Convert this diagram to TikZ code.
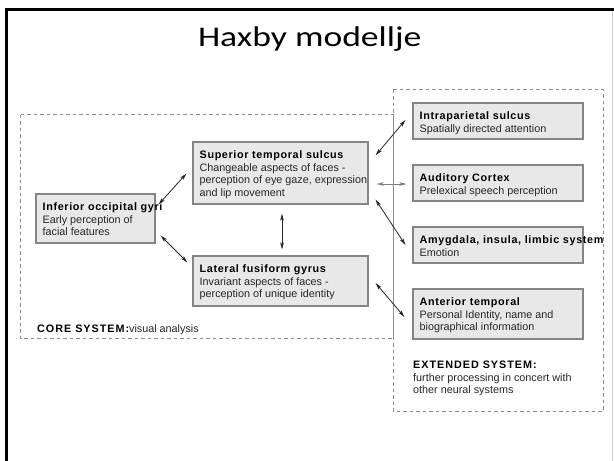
\documentclass[tikz,border=0pt]{standalone}
\usepackage{fontspec}
\setmainfont{Liberation Sans}
\newfontfamily\titlefont{Carlito}
\newfontfamily\hbold{Liberation Sans}[LetterSpace=6]
\newfontfamily\hcaps{Liberation Sans}[LetterSpace=9]
\usetikzlibrary{arrows.meta,calc}
\definecolor{boxfill}{HTML}{E8E8E8}
\definecolor{boxline}{HTML}{858585}
\definecolor{dashc}{HTML}{8C8C8C}
\definecolor{txtc}{HTML}{262626}
\newcommand{\hd}[1]{{\hbold\bfseries\color{black}#1}}
\begin{document}
\begin{tikzpicture}[x=1pt,y=-1pt,
  box/.style={draw=boxline, fill=boxfill, line width=1.1pt, inner sep=0pt},
  sysbox/.style={draw=dashc, line width=0.8pt, dash pattern=on 3.5pt off 3pt},
  txt/.style={anchor=north west, inner sep=0pt, align=left, text=txtc, font={\fontsize{10.8}{12.6}\selectfont}},
  tip/.tip={Stealth[length=7pt,width=3.6pt,inset=1.5pt]},
  arr/.style={draw=black!85, line width=0.8pt, tip-tip},
]
\useasboundingbox (0,0) rectangle (614,461);
\fill[white] (0,0) rectangle (614,461);
% slide frame
\draw[black, line width=2.6pt] (6.3,461) -- (6.3,9.6) -- (614,9.6);
\draw[gray!40, line width=0.8pt] (612.6,10.5) -- (612.6,461);
% title
\node[anchor=base, inner sep=0pt, font={\titlefont\fontsize{28.5}{34}\selectfont}] (title) at (309.7,46.7) {\scalebox{1.25}[1]{Haxby modellje}};
% system boxes
\draw[sysbox] (20.5,114.5) rectangle (393,338.5);
\draw[sysbox] (393,89.5) rectangle (603,411);
% boxes
\node[box, minimum width=119pt, minimum height=49pt] (iog) at (95.5,218.5) {};
\node[box, minimum width=175pt, minimum height=62pt] (sts) at (280.5,173) {};
\node[box, minimum width=175pt, minimum height=50pt] (lfg) at (280.5,281) {};
\node[box, minimum width=170pt, minimum height=36pt] (ips) at (498,121) {};
\node[box, minimum width=170pt, minimum height=36pt] (aud) at (498,183) {};
\node[box, minimum width=170pt, minimum height=36pt] (amy) at (498,245) {};
\node[box, minimum width=170pt, minimum height=50pt] (ant) at (498,314) {};
% texts
\node[txt] (iogt) at ($(iog.north west)+(7,9.1)$) {\hd{Inferior occipital gyri}\\Early perception of\\facial features};
\node[txt] (stst) at ($(sts.north west)+(7,9.1)$) {\hd{Superior temporal sulcus}\\Changeable aspects of faces -\\perception of eye gaze, expression\\and lip movement};
\node[txt] (lfgt) at ($(lfg.north west)+(7,9.1)$) {\hd{Lateral fusiform gyrus}\\Invariant aspects of faces -\\perception of unique identity};
\node[txt] (ipst) at ($(ips.north west)+(7,9.1)$) {\hd{Intraparietal sulcus}\\Spatially directed attention};
\node[txt] (audt) at ($(aud.north west)+(7,9.1)$) {\hd{Auditory Cortex}\\Prelexical speech perception};
\node[txt] (amyt) at ($(amy.north west)+(7,9.1)$) {\hd{Amygdala, insula, limbic system}\\Emotion};
\node[txt] (antt) at ($(ant.north west)+(7,9.1)$) {\hd{Anterior temporal}\\Personal Identity, name and\\biographical information};
\node[txt] (core) at (37,324.7) {{\hcaps\bfseries\color{black}CORE SYSTEM:}visual analysis};
\node[txt] (ext) at (413,361) {{\hcaps\bfseries\color{black}EXTENDED SYSTEM:}\\further processing in concert with\\other neural systems};
% connectors
\draw[arr] ($(iog.north east)+(3,11)$) -- ($(sts.south west)+(-6,-31)$);
\draw[arr] ($(iog.south east)+(5,-8)$) -- ($(lfg.north west)+(-5,7)$);
\draw[arr] ($(sts.south)+(1.5,9)$) -- ($(lfg.north)+(1.5,-6)$);
\draw[arr] ($(sts.north east)+(7,14)$) -- ($(ips.west)+(-7,-1)$);
\draw[arr, draw=gray] ($(sts.east)+(8,11)$) -- ($(aud.west)+(-6,1)$);
\draw[arr] ($(sts.south east)+(7,-5)$) -- ($(amy.west)+(-7,0)$);
\draw[arr] ($(lfg.east)+(7,2)$) -- ($(ant.west)+(-8,3)$);
\end{tikzpicture}
\end{document}
